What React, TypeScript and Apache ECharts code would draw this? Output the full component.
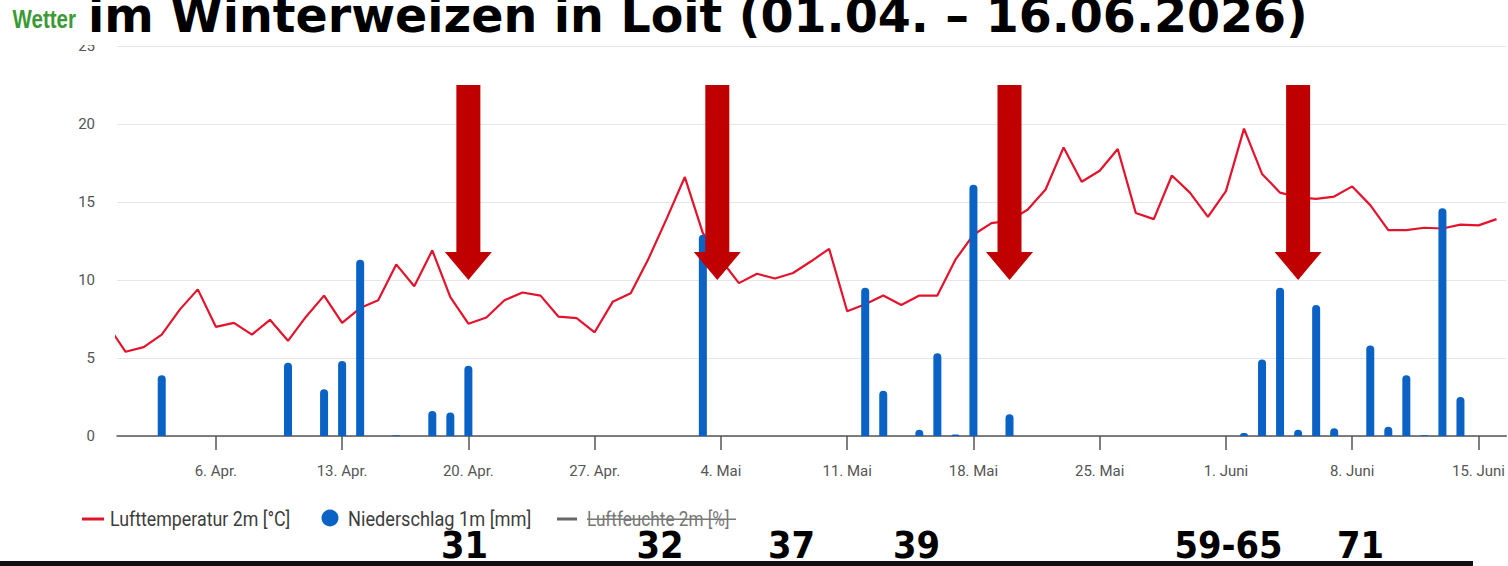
import React, { useEffect, useRef } from "react";
import * as echarts from "echarts";

const titleText = "im Winterweizen in Loit (01.04. – 16.06.2026)";
const brandText = "Wetter";

// Daily values from 31 Mar (day -1) to 16 Jun (day 76); day 0 = 1 Apr 2026
const firstDay = -1;
const temperature = [
  7.1, 5.4, 5.7, 6.5, 8.1, 9.4, 7.0, 7.25, 6.5, 7.45, 6.1,
  7.65, 9.0, 7.25, 8.2, 8.7, 11.0, 9.6, 11.9, 8.9, 7.2,
  7.6, 8.7, 9.2, 9.0, 7.65, 7.55, 6.65, 8.6, 9.15, 11.4,
  13.95, 16.6, 13.0, 11.3, 9.8, 10.4, 10.1, 10.45, 11.2, 12.0,
  8.0, 8.45, 9.0, 8.4, 9.0, 9.0, 11.3, 12.9, 13.65, 13.8,
  14.5, 15.8, 18.5, 16.3, 17.0, 18.4, 14.3, 13.9, 16.7, 15.6,
  14.05, 15.7, 19.7, 16.8, 15.6, 15.3, 15.2, 15.35, 16.0, 14.8,
  13.2, 13.2, 13.35, 13.3, 13.55, 13.5, 13.9,
];
const precipitation = [
  0, 0, 0, 3.9, 0, 0, 0, 0, 0, 0, 4.7,
  0, 3.0, 4.8, 11.3, 0, 0.05, 0, 1.6, 1.5, 4.5,
  0, 0, 0, 0, 0, 0, 0, 0, 0, 0,
  0, 0, 12.9, 0, 0, 0, 0, 0, 0, 0,
  0, 9.5, 2.9, 0, 0.4, 5.3, 0.1, 16.1, 0, 1.4,
  0, 0, 0, 0, 0, 0, 0, 0, 0, 0,
  0, 0, 0.2, 4.9, 9.5, 0.4, 8.4, 0.5, 0, 5.8,
  0.6, 3.9, 0.05, 14.6, 2.5, 0, 0,
];

const tickDays = [5, 12, 19, 26, 33, 40, 47, 54, 61, 68, 75];
const tickLabels = [
  "6. Apr.", "13. Apr.", "20. Apr.", "27. Apr.", "4. Mai", "11. Mai",
  "18. Mai", "25. Mai", "1. Juni", "8. Juni", "15. Juni",
];
const yTicks = [0, 5, 10, 15, 20, 25];

const arrowDays = [19, 32.8, 49, 65];
const stageLabels = ["31", "32", "37", "39", "59-65", "71"];
const stageCenters = [464.5, 660, 791.5, 916.5, 1228.5, 1360.5];

const legendNames = ["Lufttemperatur 2m [°C]", "Niederschlag 1m [mm]", "Luftfeuchte 2m [%]"];

export default function App() {
  const ref = useRef<HTMLDivElement>(null);
  useEffect(() => {
    const el = ref.current!;
    const chart = echarts.init(el, null, { renderer: "svg" });
    const tempData = temperature.map((v, i) => [firstDay + i, v]);
    const precData = precipitation
      .map((v, i) => [firstDay + i, v])
      .filter((d) => d[1] > 0);
    chart.setOption({
      animation: false,
      grid: { left: 117, right: 0, top: 46, bottom: 130 },
      xAxis: {
        type: "value",
        min: -0.48,
        max: 76.54,
        splitLine: { show: false },
        axisLine: { lineStyle: { color: "#555", width: 1.5 } },
        axisTick: { show: true, length: 14, lineStyle: { color: "#555", width: 1.5 }, customValues: tickDays },
        axisLabel: {
          customValues: tickDays,
          formatter: (v: number) => tickLabels[tickDays.indexOf(Math.round(v))] ?? "",
          margin: 27,
          fontSize: 15,
          color: "#555",
          fontFamily: "Roboto",
        },
      },
      yAxis: {
        type: "value",
        min: yTicks[0],
        max: yTicks[yTicks.length - 1],
        interval: 5,
        axisLine: { show: false },
        axisTick: { show: false },
        splitLine: { lineStyle: { color: "#e6e6e6", width: 1.2 } },
        axisLabel: { fontSize: 15, color: "#555", margin: 22, fontFamily: "Roboto" },
      },
      series: [
        {
          name: legendNames[0],
          type: "line",
          data: tempData,
          showSymbol: false,
          symbol: "none",
          lineStyle: { color: "#e4132c", width: 2.2 },
          itemStyle: { color: "#e4132c" },
          z: 2,
        },
        {
          name: legendNames[1],
          type: "bar",
          data: precData,
          barWidth: 8,
          itemStyle: { color: "#0a62c4", borderRadius: [4, 4, 0, 0] },
          z: 3,
        },
      ],
    });

    const arrows = arrowDays.map((d) => {
      const cx = chart.convertToPixel({ xAxisIndex: 0 }, d) as number;
      return {
        type: "polygon",
        z: 50,
        shape: {
          points: [
            [cx - 12, 85], [cx + 12, 85], [cx + 12, 252], [cx + 23.5, 252],
            [cx, 280], [cx - 23.5, 252], [cx - 12, 252],
          ],
        },
        style: { fill: "#c00000" },
      };
    });

    const legendFont = { fontFamily: "Roboto", fontSize: 20 };
    const graphics: any[] = [
      { type: "rect", z: 100, shape: { x: 0, y: 0, width: 1508, height: 45 }, style: { fill: "#fff" } },
      {
        type: "text", z: 101, x: 12.5, y: 19.5, scaleX: 0.82,
        style: { text: brandText, fontFamily: "Liberation Sans", fontWeight: "bold", fontSize: 25, fill: "#3c9a36", verticalAlign: "middle", align: "left" },
      },
      {
        type: "text", z: 101, x: 88, y: 15.5,
        style: { text: titleText, fontFamily: "DejaVu Sans", fontWeight: "bold", fontSize: 47.5, fill: "#000", verticalAlign: "middle", align: "left" },
      },
      ...arrows,
      // legend
      { type: "rect", z: 60, shape: { x: 82, y: 517.5, width: 22, height: 3 }, style: { fill: "#e4132c" } },
      { type: "text", z: 60, x: 110, y: 519.5, scaleX: 0.89, style: { ...legendFont, text: legendNames[0], fill: "#3d3d3d", verticalAlign: "middle", align: "left" } },
      { type: "circle", z: 60, shape: { cx: 330, cy: 518, r: 8.5 }, style: { fill: "#0a62c4" } },
      { type: "text", z: 60, x: 348, y: 519.5, scaleX: 0.91, style: { ...legendFont, text: legendNames[1], fill: "#3d3d3d", verticalAlign: "middle", align: "left" } },
      { type: "rect", z: 60, shape: { x: 557, y: 517.5, width: 20, height: 3 }, style: { fill: "#666" } },
      { type: "text", z: 60, x: 587, y: 519.5, scaleX: 0.86, style: { ...legendFont, text: legendNames[2], fill: "#777", verticalAlign: "middle", align: "left" } },
      { type: "rect", z: 61, shape: { x: 587, y: 518.5, width: 149, height: 1.5 }, style: { fill: "#777" } },
      // bottom rule
      { type: "rect", z: 60, shape: { x: 0, y: 561, width: 1473, height: 5 }, style: { fill: "#111" } },
      ...stageLabels.map((s, i) => ({
        type: "text", z: 62, x: stageCenters[i], y: 545, scaleX: 0.89,
        style: { text: s, fontFamily: "DejaVu Sans", fontWeight: "bold", fontSize: 38, fill: "#000", verticalAlign: "middle", align: "center" },
      })),
    ];
    chart.setOption({ graphic: graphics });
    return () => chart.dispose();
  }, []);
  return (
    <div
      ref={ref}
      style={{ position: "fixed", left: 0, top: 0, width: 1508, height: 566, background: "#fff" }}
    />
  );
}
